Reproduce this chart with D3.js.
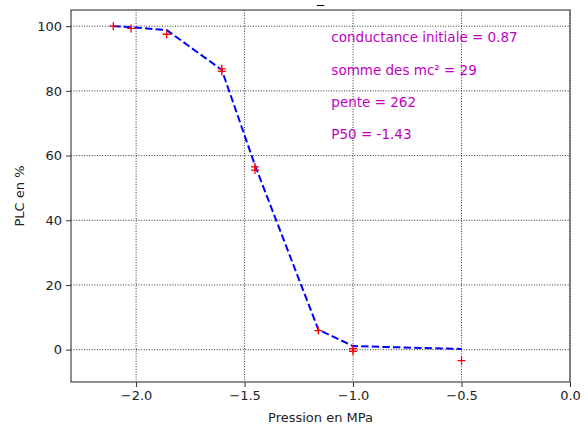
<!DOCTYPE html>
<html>
<head>
<meta charset="utf-8">
<script src="https://cdn.jsdelivr.net/npm/d3@7"></script>
<style>
  body { margin: 0; background: #fff; }
  text { font-family: "DejaVu Sans", sans-serif; }
</style>
</head>
<body>
<div id="chart"></div>
<script>
// measured points (red crosses)
var pression = [-2.105, -2.023, -1.859, -1.605, -1.605, -1.452, -1.452, -1.16, -1.0, -1.0, -0.5];
var plc = [100, 99.3, 97.5, 86.8, 86.0, 56.5, 55.5, 5.9, -0.5, 0.3, -3.4];

// fitted curve (blue dashed line)
var fitPression = [-2.105, -2.023, -1.859, -1.605, -1.452, -1.16, -1.0, -0.5];
var fitPlc = [100, 99.7, 98.8, 86.5, 57, 6.2, 1.1, 0.2];

var xTicks = [-2.0, -1.5, -1.0, -0.5, 0.0];
var yTicks = [0, 20, 40, 60, 80, 100];

var annotations = ["conductance initiale = 0.87", "somme des mc\u00b2 = 29", "pente = 262", "P50 = -1.43"];
var annotY = [95, 85, 75, 65];

var svgWidth = 588;
var svgHeight = 428;
var margin = { top: 10, right: 18, bottom: 46, left: 71 };
var width = svgWidth - margin.left - margin.right;
var height = svgHeight - margin.top - margin.bottom;

var svg = d3.select("#chart")
    .append("svg")
    .attr("width", svgWidth)
    .attr("height", svgHeight)
    .append("g")
    .attr("transform", "translate(" + margin.left + "," + margin.top + ")");

var x = d3.scaleLinear().domain([-2.3, 0]).range([0, width]);
var y = d3.scaleLinear().domain([-10, 105]).range([height, 0]);

// grid
svg.append("g").selectAll("line")
    .data(xTicks)
    .enter().append("line")
    .attr("x1", d => x(d)).attr("x2", d => x(d))
    .attr("y1", 0).attr("y2", height)
    .attr("stroke", "#000").attr("stroke-width", 0.8)
    .attr("stroke-dasharray", "1,1.6");
svg.append("g").selectAll("line")
    .data(yTicks)
    .enter().append("line")
    .attr("x1", 0).attr("x2", width)
    .attr("y1", d => y(d)).attr("y2", d => y(d))
    .attr("stroke", "#000").attr("stroke-width", 0.8)
    .attr("stroke-dasharray", "1,1.6");

// axes
var bottomAxis = d3.axisBottom(x).tickValues(xTicks).tickSize(5).tickPadding(4)
    .tickFormat(d => d3.format(".1f")(d).replace("-", "\u2212"));
var leftAxis = d3.axisLeft(y).tickValues(yTicks).tickSize(5).tickPadding(4);

var gx = svg.append("g")
    .attr("transform", "translate(0," + height + ")")
    .call(bottomAxis);
var gy = svg.append("g").call(leftAxis);
[gx, gy].forEach(function(g) {
    g.select(".domain").remove();
    g.selectAll("line").attr("stroke", "#333");
    g.selectAll("text").attr("font-size", 13).attr("fill", "#222")
        .style("font-family", "DejaVu Sans, sans-serif");
});

// frame
svg.append("rect")
    .attr("x", 0).attr("y", 0)
    .attr("width", width).attr("height", height)
    .attr("fill", "none")
    .attr("stroke", "#444")
    .attr("stroke-width", 1.2);

// fitted line
var fitData = fitPression.map((p, i) => [p, fitPlc[i]]);
svg.append("path")
    .datum(fitData)
    .attr("fill", "none")
    .attr("stroke", "#0000ff")
    .attr("stroke-width", 2)
    .attr("stroke-dasharray", "7.4,3.2")
    .attr("d", d3.line().x(d => x(d[0])).y(d => y(d[1])));

// red crosses
var pts = pression.map((p, i) => [p, plc[i]]);
var crosses = svg.append("g").selectAll("g")
    .data(pts)
    .enter().append("g")
    .attr("transform", d => "translate(" + x(d[0]) + "," + y(d[1]) + ")");
crosses.append("path")
    .attr("d", "M-4,0H4M0,-4V4")
    .attr("stroke", "#ff0000")
    .attr("stroke-width", 1.3);

// annotations
svg.append("g").selectAll("text")
    .data(annotations)
    .enter().append("text")
    .attr("x", x(-1.1))
    .attr("y", (d, i) => y(annotY[i]))
    .attr("font-size", 13.5)
    .attr("fill", "#bf00bf")
    .text(d => d);

// title
svg.append("text")
    .attr("x", width / 2)
    .attr("y", -7)
    .attr("text-anchor", "middle")
    .attr("font-size", 14)
    .text("_");

// axis labels
svg.append("text")
    .attr("x", width / 2)
    .attr("y", height + 40)
    .attr("text-anchor", "middle")
    .attr("font-size", 13)
    .attr("fill", "#222")
    .text("Pression en MPa");
svg.append("text")
    .attr("transform", "translate(" + (-47) + "," + (height / 2) + ") rotate(-90)")
    .attr("text-anchor", "middle")
    .attr("font-size", 13)
    .attr("fill", "#222")
    .text("PLC en %");
</script>
</body>
</html>
